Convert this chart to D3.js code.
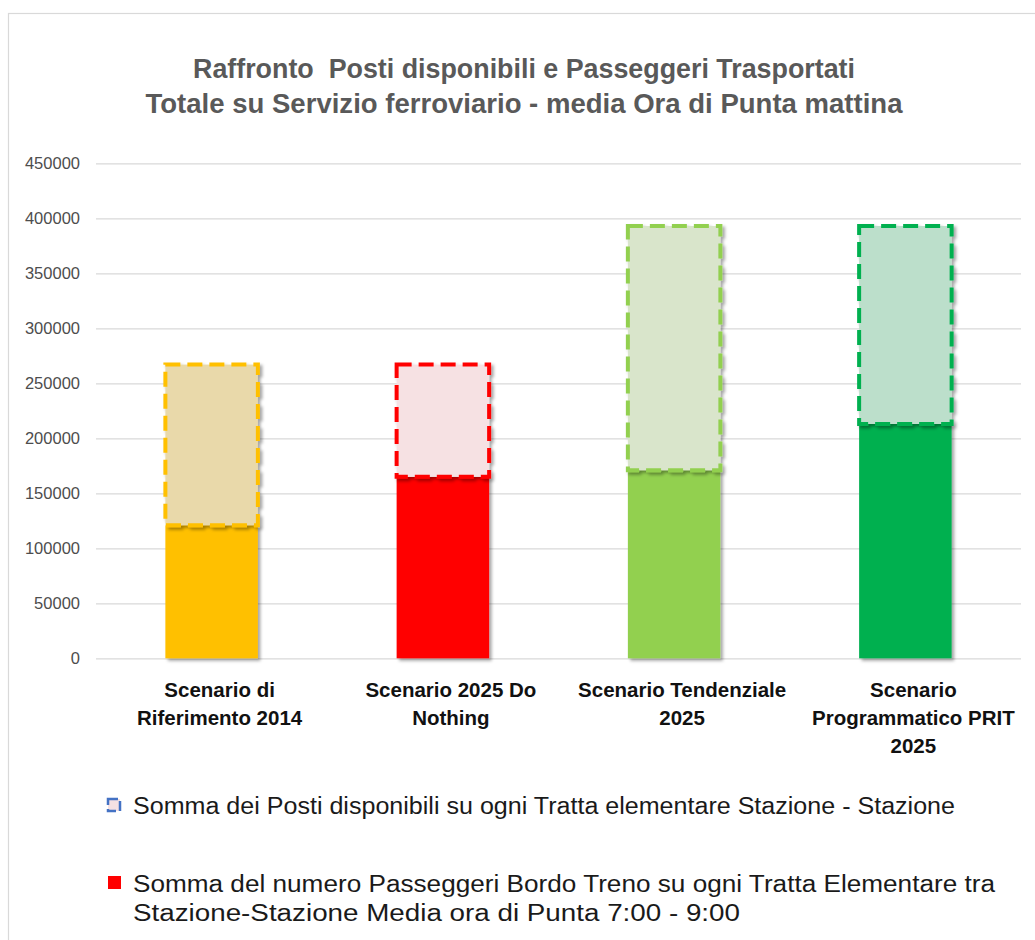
<!DOCTYPE html>
<html>
<head>
<meta charset="utf-8">
<script src="https://cdn.jsdelivr.net/npm/d3@7"></script>
<style>
  html, body { margin: 0; padding: 0; background: #fff; }
  svg { display: block; font-family: "Liberation Sans", Arial, sans-serif; }
  .title { white-space: pre; }
</style>
</head>
<body>
<svg id="chart" width="1035" height="940"></svg>
<script>
// Scenario labels (one entry per line of the axis label)
const categories = [
  ["Scenario di", "Riferimento 2014"],
  ["Scenario 2025 Do", "Nothing"],
  ["Scenario Tendenziale", "2025"],
  ["Scenario", "Programmatico PRIT", "2025"]
];
// Available seats (dashed outline) and carried passengers (solid), peak-hour average
const seats = [267000, 267000, 393000, 393000];
const passengers = [121000, 165000, 171000, 213000];
const yTicks = [0, 50000, 100000, 150000, 200000, 250000, 300000, 350000, 400000, 450000];

const solidColors = ["#FFC000", "#FF0000", "#92D050", "#00B050"];
const paleColors = ["#E9D9AA", "#F6E1E3", "#D9E5CB", "#BCDFCB"];

const titleLines = [
  "Raffronto  Posti disponibili e Passeggeri Trasportati",
  "Totale su Servizio ferroviario - media Ora di Punta mattina"
];
const legendSeats = "Somma dei Posti disponibili su ogni Tratta elementare Stazione - Stazione";
const legendPassengers = [
  "Somma del numero Passeggeri Bordo Treno su ogni Tratta Elementare tra",
  "Stazione-Stazione Media ora di Punta 7:00 - 9:00"
];

const svg = d3.select("#chart");

// soft drop shadow used by bars and the base line
const defs = svg.append("defs");
const f = defs.append("filter").attr("id", "shadow")
  .attr("x", "-20%").attr("y", "-20%").attr("width", "150%").attr("height", "150%");
f.append("feDropShadow").attr("dx", 2.5).attr("dy", 2.5)
  .attr("stdDeviation", 1.8).attr("flood-color", "#000").attr("flood-opacity", 0.35);

// outer chart frame
svg.append("rect").attr("x", 8.5).attr("y", 13.5).attr("width", 1040).attr("height", 940)
  .attr("fill", "#fff").attr("stroke", "#d9d9d9").attr("stroke-width", 1.2);

// title
svg.append("g").selectAll("text").data(titleLines).join("text")
  .attr("class", "title")
  .attr("x", 524).attr("y", (d, i) => 78 + i * 35)
  .attr("text-anchor", "middle")
  .attr("font-size", 27).attr("font-weight", "bold").attr("fill", "#595959")
  .attr("textLength", (d, i) => [662, 757][i]).attr("lengthAdjust", "spacingAndGlyphs")
  .text(d => d);

const x = d3.scaleBand().domain(d3.range(categories.length))
  .range([96, 1021]).paddingInner(0.6).paddingOuter(0.3);
const y = d3.scaleLinear().domain([0, 450000]).range([658.3, 163.3]);

// gridlines + tick labels
const yAxis = svg.append("g").attr("transform", "translate(96,0)")
  .call(d3.axisLeft(y).tickValues(yTicks).tickSize(-925).tickPadding(16).tickFormat(d3.format("d")));
yAxis.select(".domain").remove();
yAxis.selectAll(".tick line").attr("stroke", "#d9d9d9").attr("stroke-width", 1.3);
yAxis.selectAll(".tick text").attr("font-size", 16.5).attr("fill", "#4d4d4d")
  .attr("font-family", "'Liberation Sans', Arial, sans-serif");

// base line
svg.append("line").attr("x1", 96).attr("x2", 1021).attr("y1", y(0)).attr("y2", y(0))
  .attr("stroke", "#c8c8c8").attr("stroke-width", 2).attr("filter", "url(#shadow)");

const idx = d3.range(categories.length);

// passengers: solid bars
svg.append("g").selectAll("rect").data(idx).join("rect")
  .attr("x", i => x(i)).attr("width", x.bandwidth())
  .attr("y", i => y(passengers[i])).attr("height", i => y(0) - y(passengers[i]))
  .attr("fill", i => solidColors[i]).attr("filter", "url(#shadow)");

// seats: pale segment with dashed outline stacked up to the seat total
svg.append("g").selectAll("rect").data(idx).join("rect")
  .attr("x", i => x(i)).attr("width", x.bandwidth())
  .attr("y", i => y(seats[i])).attr("height", i => y(passengers[i]) - y(seats[i]))
  .attr("fill", i => paleColors[i])
  .attr("stroke", i => solidColors[i]).attr("stroke-width", 4)
  .attr("stroke-dasharray", "15 7")
  .attr("filter", "url(#shadow)");

// category labels
const catG = svg.append("g").selectAll("text").data(idx).join("text")
  .attr("text-anchor", "middle").attr("font-size", 20.5).attr("font-weight", "bold")
  .attr("fill", "#111");
catG.selectAll("tspan").data(i => categories[i].map(t => ({ t, i }))).join("tspan")
  .attr("x", d => x(d.i) + x.bandwidth() / 2 + 8)
  .attr("y", (d, k) => 697 + k * 28)
  .text(d => d.t);

// legend
const lg = svg.append("g");
lg.append("rect").attr("x", 108).attr("y", 799).attr("width", 12).attr("height", 12)
  .attr("fill", "#F6E1E3").attr("stroke", "#4472C4").attr("stroke-width", 2.5)
  .attr("stroke-dasharray", "10 4");
lg.append("text").attr("x", 133).attr("y", 814).attr("font-size", 23).attr("fill", "#1a1a1a")
  .attr("textLength", 822).attr("lengthAdjust", "spacingAndGlyphs")
  .text(legendSeats);
lg.append("rect").attr("x", 108).attr("y", 876).attr("width", 13).attr("height", 13)
  .attr("fill", "#FF0000");
lg.selectAll("text.p").data(legendPassengers).join("text").attr("class", "p")
  .attr("x", 133).attr("y", (d, i) => 892 + i * 29)
  .attr("font-size", 23).attr("fill", "#1a1a1a")
  .attr("textLength", (d, i) => [862, 607][i]).attr("lengthAdjust", "spacingAndGlyphs")
  .text(d => d);
</script>
</body>
</html>
